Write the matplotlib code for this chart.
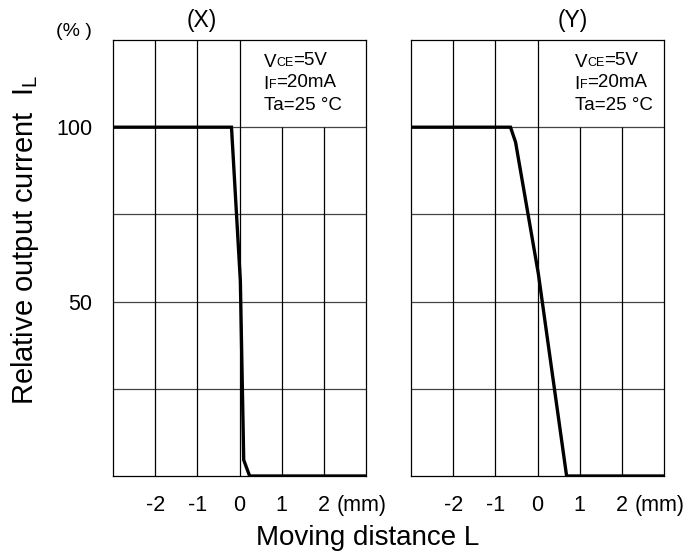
import numpy as np
import matplotlib.pyplot as plt

plt.rcParams['font.family'] = ['Liberation Sans', 'DejaVu Sans']

# curve for (X) direction
x_dist = [-3.0, -0.19, 0.02, 0.10, 0.24, 3.0]
x_curr = [100, 100, 56, 4.6, 0, 0]

# curve for (Y) direction
y_dist = [-3.0, -0.64, -0.52, 0.02, 0.69, 3.0]
y_curr = [100, 100, 95.7, 58, 0, 0]

xticks = [-2, -1, 0, 1, 2]
yticks = [50, 100]
hgrid = [25, 50, 75, 100]
vgrid_full = [-2, -1, 0]
vgrid_low = [1, 2]

cond_lines = [[('V', 13.5), ('CE', 9), ('=5V', 13.5)],
              [('I', 13.5), ('F', 9), ('=20mA', 13.5)],
              [('Ta=25 \u00b0C', 13.5)]]
cond_y = [117.3, 111.0, 104.8]

fig = plt.figure(figsize=(6.92, 5.56), dpi=100)
W, H = 692, 556


def add_panel(left_px, dist, curr, title, title_px, box_x):
    ax = fig.add_axes([left_px / W, (H - 476) / H, 253 / W, 436 / H])
    ax.set_xlim(-3, 3)
    ax.set_ylim(0, 125)
    ax.hlines(hgrid, -3, 3, color='#444444', lw=0.9)
    ax.vlines(vgrid_full, 0, 125, color='black', lw=0.9)
    ax.vlines(vgrid_low, 0, 100, color='black', lw=0.9)
    ax.plot(dist, curr, color='black', lw=2.4, solid_joinstyle='miter', zorder=5)
    for s in ax.spines.values():
        s.set_linewidth(0.9)
    ax.set_xticks(xticks)
    ax.set_xticklabels([str(t) for t in xticks])
    ax.tick_params(length=0, labelsize=15.5)
    ax.tick_params(axis='x', pad=14)
    ax.annotate('(mm)', xy=(2.3, 0), xycoords=('data', 'axes fraction'),
                xytext=(0, -14), textcoords='offset points',
                fontsize=15.5, ha='left', va='top')

    # measuring conditions, subscripts as separate smaller pieces
    for parts, yy in zip(cond_lines, cond_y):
        prev = ax.text(box_x, yy, parts[0][0], fontsize=parts[0][1],
                       ha='left', va='baseline')
        for txt, sz in parts[1:]:
            prev = ax.annotate(txt, xy=(1, 0), xycoords=prev, fontsize=sz,
                               ha='left', va='bottom',
                               xytext=(0, 1.2 if sz < 10 else 0),
                               textcoords='offset points')
    fig.text(title_px / W, 1 - 20 / H, title, fontsize=16.5, ha='center', va='center')
    return ax


ax1 = add_panel(113, x_dist, x_curr, '(X)', 202, 0.57)
ax1.set_yticks(yticks)
ax1.set_yticklabels([str(t) for t in yticks])
ax1.tick_params(axis='y', pad=15)

ax2 = add_panel(411, y_dist, y_curr, '(Y)', 573, 0.88)
ax2.set_yticks([])

fig.text(74 / W, 1 - 31 / H, '(% )', fontsize=14, ha='center', va='center')
fig.text(368 / W, 1 - 545 / H, 'Moving distance L', fontsize=20,
         ha='center', va='baseline')
fig.text(25 / W, 1 - 240 / H, 'Relative output current  I$_{\\mathregular{L}}$',
         fontsize=21, ha='center', va='center', rotation=90)

fig.savefig('out.png', dpi=100)
